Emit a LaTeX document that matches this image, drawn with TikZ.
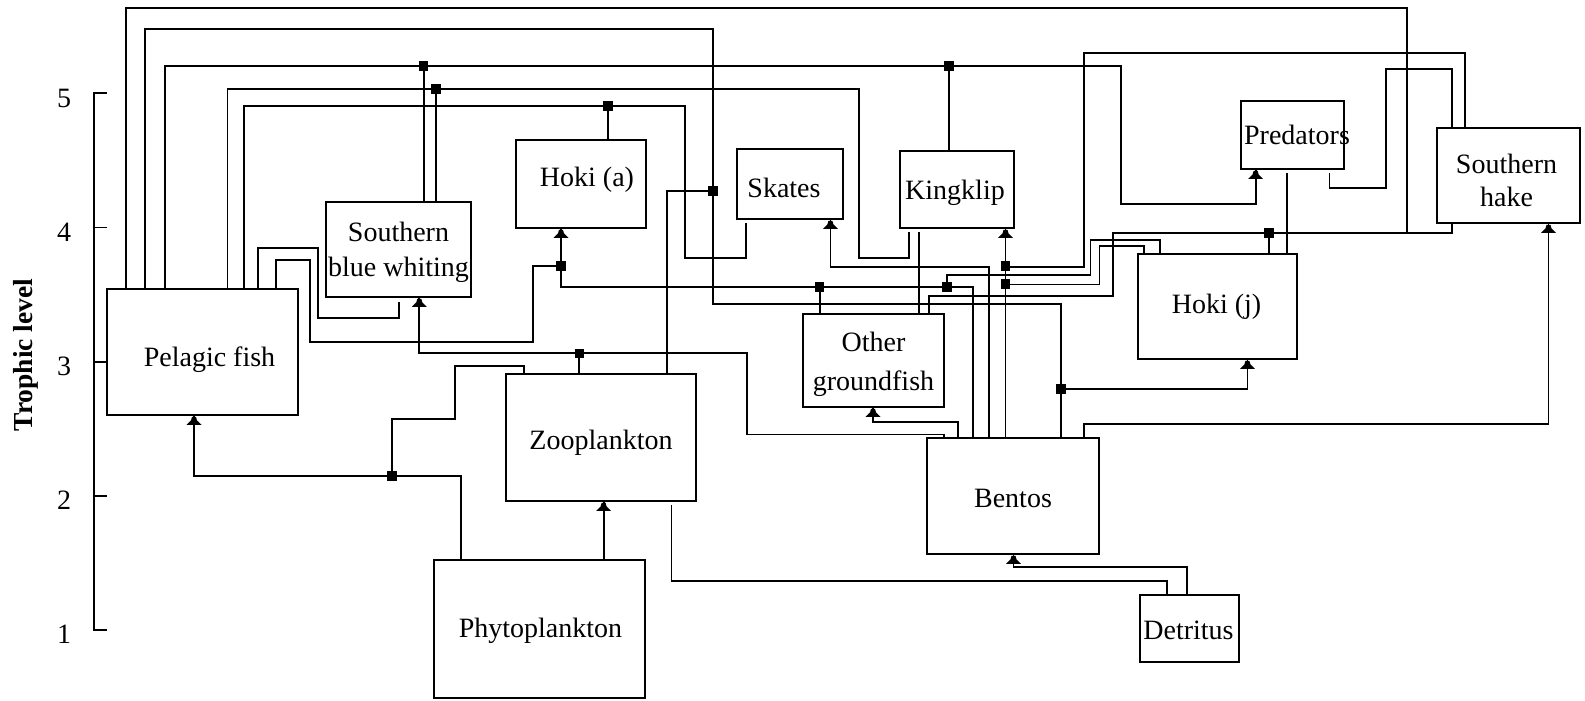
\documentclass[tikz,border=0pt]{standalone}
\usepackage{fontspec}
\setmainfont{Liberation Serif}
\usetikzlibrary{calc}
\tikzset{
  box/.style={draw, line width=1.8pt, inner sep=0pt},
  lbl/.style={font=\fontsize{28}{34}\selectfont, align=center, inner sep=0pt},
  link/.style={line width=1.8pt},
  tick/.style={font=\fontsize{28}{34}\selectfont, inner sep=0pt},
  ahead/.pic={\fill (-7.5,9) -- (-3,4.5) -- (-2,1) -- (2,1) -- (3,4.5) -- (7.5,9) -- cycle;},
  sq/.pic={\fill (-4.8,-4.8) rectangle (4.8,4.8);},
}
\begin{document}
\begin{tikzpicture}[x=1pt,y=-1pt]
\useasboundingbox (0,0) rectangle (1585,701);

% axis
\draw[link] (107,93) -- (94,93) -- (94,630) -- (107,630);
\draw[link] (94,227.5) -- (107,227.5);
\draw[link] (94,362) -- (107,362);
\draw[link] (94,496) -- (107,496);
\node[tick] (t5) at (64,98) {5};
\node[tick] (t4) at (64,232) {4};
\node[tick] (t3) at (64,366) {3};
\node[tick] (t2) at (64,500) {2};
\node[tick] (t1) at (64,634) {1};
\node[rotate=90, inner sep=0pt, font=\bfseries\fontsize{27.5}{33}\selectfont] (axl) at (26,355) {Trophic level};

% boxes
\node[box, minimum width=191pt, minimum height=126pt, label={[lbl, xshift=7pt, yshift=-8pt]center:Pelagic fish}] (pel) at (202.5,352) {};
\node[box, minimum width=145pt, minimum height=95pt, label={[lbl, yshift=-2.5pt]center:{Southern\\[1pt]blue whiting}}] (sbw) at (398.5,249.5) {};
\node[box, minimum width=130pt, minimum height=88pt, label={[lbl, xshift=6pt, yshift=4.5pt]center:Hoki (a)}] (hokia) at (581,184) {};
\node[box, minimum width=106pt, minimum height=70pt, label={[lbl, xshift=-6pt, yshift=-4pt]center:Skates}] (skates) at (790,184) {};
\node[box, minimum width=114pt, minimum height=77pt, label={[lbl, xshift=-2pt, yshift=-3pt]center:Kingklip}] (king) at (957,189.5) {};
\node[box, minimum width=103pt, minimum height=68pt, label={[lbl, xshift=4.5pt]center:Predators}] (pred) at (1292.5,135) {};
\node[box, minimum width=143pt, minimum height=95pt, label={[lbl, xshift=-2pt, yshift=-4.5pt]center:{Southern\\[-1pt]hake}}] (shake) at (1508.5,175.5) {};
\node[box, minimum width=159pt, minimum height=105pt, label={[lbl, xshift=-1pt]center:Hoki (j)}] (hokij) at (1217.5,306.5) {};
\node[box, minimum width=141pt, minimum height=93pt, label={[lbl, yshift=-4pt]center:{Other\\[5pt]groundfish}}] (og) at (873.5,360.5) {};
\node[box, minimum width=190pt, minimum height=127pt, label={[lbl, yshift=-5pt]center:Zooplankton}] (zoo) at (601,437.5) {};
\node[box, minimum width=172pt, minimum height=116pt, label={[lbl, yshift=-2pt]center:Bentos}] (bentos) at (1013,496) {};
\node[box, minimum width=211pt, minimum height=138pt, label={[lbl, xshift=1pt, yshift=-2pt]center:Phytoplankton}] (phyto) at (539.5,629) {};
\node[box, minimum width=99pt, minimum height=67pt, label={[lbl, xshift=-1pt, yshift=-2pt]center:Detritus}] (det) at (1189.5,628.5) {};

% connectors
\draw[link] (125.7,0 |- pel.north) -- (125.7,8.3) -- (1406.7,8.3) -- (1406.7,233);
\draw[link] (144.6,0 |- pel.north) -- (144.6,29.3) -- (713,29.3) -- (713,304.3) -- (1060.7,304.3) -- (1060.7,0 |- bentos.north);
\draw[link] (165,0 |- pel.north) -- (165,66) -- (1121,66) -- (1121,204.3) -- (1255.6,204.3) -- (1255.6,0 |- pred.south);
\draw[link] (423.6,66) -- (423.6,0 |- sbw.north);
\draw[link] (949,66) -- (949,0 |- king.north);
\draw[link] (227.5,0 |- pel.north) -- (227.5,89) -- (859,89) -- (859,258.3) -- (909,258.3) -- ($(909,0 |- king.south)+(0,3)$);
\draw[link] (435.7,89) -- (435.7,0 |- sbw.north);
\draw[link] (244,0 |- pel.north) -- (244,105.7) -- (685,105.7) -- (685,258.3) -- (745.7,258.3) -- ($(745.7,0 |- skates.south)+(0,3.5)$);
\draw[link] (608,105.7) -- (608,0 |- hokia.north);
\draw[link] (258,0 |- pel.north) -- (258,247.7) -- (318,247.7) -- (318,318.3) -- (399,318.3) -- ($(399,0 |- sbw.south)+(0,4)$);
\draw[link] (276,0 |- pel.north) -- (276,260) -- (309.6,260) -- (309.6,342.3) -- (533,342.3) -- (533,265.7) -- (561,265.7);
\draw[link] (561,0 |- hokia.south) -- (561,286.7) -- (973.3,286.7) -- (973.3,0 |- bentos.north);
\draw[link] (819.6,286.7) -- (819.6,0 |- og.north);
\draw[link] (667,0 |- zoo.north) -- (667,191) -- (713,191);
\draw[link] (989,0 |- bentos.north) -- (989,266.7) -- (830.4,266.7) -- (830.4,0 |- skates.south);
\draw[link] (1005.5,0 |- bentos.north) -- (1005.5,0 |- king.south);
\draw[link] (1464.6,0 |- shake.north) -- (1464.6,53.3) -- (1084,53.3) -- (1084,266.7) -- (1005.5,266.7);
\draw[link] (1144,0 |- hokij.north) -- (1144,245.7) -- (1099.5,245.7) -- (1099.5,284.5) -- (1005.5,284.5);
\draw[link] (1160,0 |- hokij.north) -- (1160,240) -- (1090.5,240) -- (1090.5,275) -- (946.7,275) -- (946.7,286.7);
\draw[link] (929.3,0 |- og.north) -- (929.3,296) -- (1113,296) -- (1113,233) -- (1452,233) -- (1452,0 |- shake.south);
\draw[link] (1269,233) -- (1269,0 |- hokij.north);
\draw[link] ($(918.6,0 |- king.south)+(0,3)$) -- (918.6,0 |- og.north);
\draw[link] ($(1286.6,0 |- pred.south)+(0,3.5)$) -- (1286.6,0 |- hokij.north);
\draw[link] (1452,0 |- shake.north) -- (1452,69) -- (1386,69) -- (1386,188.3) -- (1329.5,188.3) -- ($(1329.5,0 |- pred.south)+(0,3.5)$);
\draw[link] (1084,0 |- bentos.north) -- (1084,424) -- (1548.5,424) -- (1548.5,0 |- shake.south);
\draw[link] (1060.7,388.7) -- (1247.4,388.7) -- (1247.4,0 |- hokij.south);
\draw[link] (958.3,0 |- bentos.north) -- (958.3,421.7) -- (873,421.7) -- (873,0 |- og.south);
\draw[link] (944,0 |- bentos.north) -- (944,434.5) -- (747,434.5) -- (747,353.3) -- (419.3,353.3) -- (419.3,0 |- sbw.south);
\draw[link] (579.3,353.3) -- (579.3,0 |- zoo.north);
\draw[link] (524,0 |- zoo.north) -- (524,365.7) -- (454.6,365.7) -- (454.6,419.3) -- (392,419.3) -- (392,475.7);
\draw[link] (460.7,0 |- phyto.north) -- (460.7,475.7) -- (194,475.7) -- (194,0 |- pel.south);
\draw[link] (603.6,0 |- phyto.north) -- (603.6,0 |- zoo.south);
\draw[link] ($(671.4,0 |- zoo.south)+(0,3)$) -- (671.4,580.7) -- (1166.8,580.7) -- (1166.8,0 |- det.north);
\draw[link] (1187.3,0 |- det.north) -- (1187.3,566.7) -- (1013.5,566.7) -- (1013.5,0 |- bentos.south);

% junction squares
\pic at (423.6,66) {sq};
\pic at (949,66) {sq};
\pic at (435.7,89) {sq};
\pic at (608,105.7) {sq};
\pic at (713,191) {sq};
\pic at (561,265.7) {sq};
\pic at (819.6,286.7) {sq};
\pic at (946.7,286.7) {sq};
\pic at (1005.5,266) {sq};
\pic at (1005.5,284) {sq};
\pic at (1269,233) {sq};
\pic at (1060.7,388.7) {sq};
\pic at (579.3,353.3) {sq};
\pic at (392,475.7) {sq};

% arrowheads
\pic at (194,0 |- pel.south) {ahead};
\pic at (419.3,0 |- sbw.south) {ahead};
\pic at (561,0 |- hokia.south) {ahead};
\pic at (830.4,0 |- skates.south) {ahead};
\pic at (1005.5,0 |- king.south) {ahead};
\pic at (1255.6,0 |- pred.south) {ahead};
\pic at (1548.5,0 |- shake.south) {ahead};
\pic at (1247.4,0 |- hokij.south) {ahead};
\pic at (873,0 |- og.south) {ahead};
\pic at (603.6,0 |- zoo.south) {ahead};
\pic at (1013.5,0 |- bentos.south) {ahead};
\end{tikzpicture}
\end{document}
